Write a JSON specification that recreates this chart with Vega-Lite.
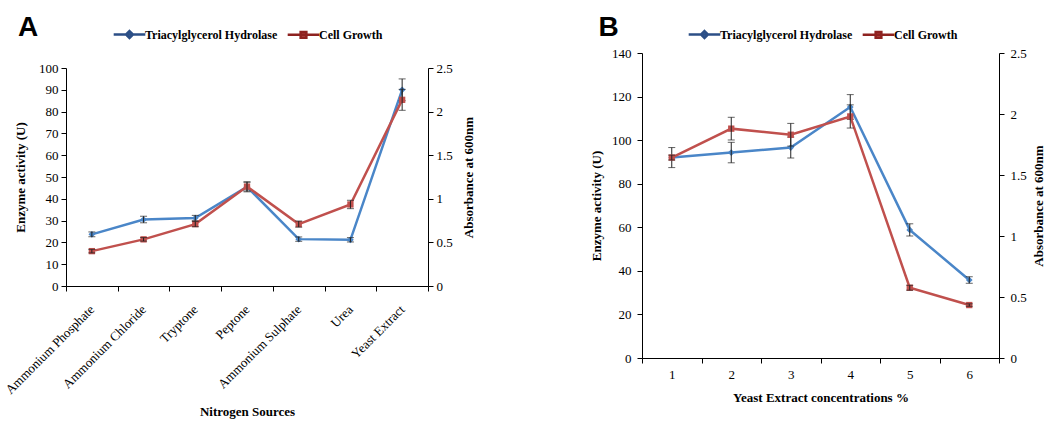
{
  "$schema": "https://vega.github.io/schema/vega-lite/v6.json",
  "background": "white",
  "padding": {"left": 3, "top": 14, "right": 0, "bottom": 0},
  "spacing": 114,
  "resolve": {"scale": {"color": "independent", "shape": "independent", "stroke": "independent"}, "legend": {"color": "independent", "shape": "independent", "stroke": "independent"}},
  "config": {
    "font": "Liberation Serif",
    "view": {"stroke": null},
    "axis": {"labelFont": "Liberation Serif", "labelFontSize": 13, "labelColor": "#000", "titleFont": "Liberation Serif", "titleFontSize": 13, "titleFontWeight": "bold", "titleColor": "#000", "domainColor": "#000", "tickColor": "#000", "grid": false, "tickSize": 5, "labelPadding": 3},
    "legend": {"labelFont": "Liberation Serif", "labelFontSize": 12, "labelFontWeight": "bold", "labelColor": "#000", "symbolSize": 1000, "symbolStrokeWidth": 2.5, "labelOffset": -2, "columnPadding": 4, "padding": 0},
    "title": {"font": "Liberation Sans", "fontSize": 28, "fontWeight": "bold", "color": "#000", "anchor": "start"}
  },
  "hconcat": [
    {
      "width": 362,
      "height": 233,
      "title": {"text": "A", "dx": 15, "offset": -25},
      "data": {"values": [
        {"source": "Ammonium Phosphate", "enz": 23.7, "enzErr": 1.1, "abs": 0.40, "absErr": 0.02},
        {"source": "Ammonium Chloride", "enz": 30.5, "enzErr": 1.5, "abs": 0.535, "absErr": 0.02},
        {"source": "Tryptone", "enz": 31.2, "enzErr": 1.2, "abs": 0.71, "absErr": 0.03},
        {"source": "Peptone", "enz": 45.5, "enzErr": 2.3, "abs": 1.14, "absErr": 0.05},
        {"source": "Ammonium Sulphate", "enz": 21.5, "enzErr": 1.0, "abs": 0.71, "absErr": 0.035},
        {"source": "Urea", "enz": 21.2, "enzErr": 1.0, "abs": 0.935, "absErr": 0.048},
        {"source": "Yeast Extract", "enz": 90.0, "enzErr": 5.0, "abs": 2.135, "absErr": 0.12}
      ]},
      "encoding": {
        "x": {"field": "source", "type": "nominal", "sort": null,
          "scale": {"type": "band", "paddingInner": 0, "paddingOuter": 0},
          "axis": {"title": "Nitrogen Sources", "labelAngle": -45, "labelAlign": "right", "labelBaseline": "middle", "labelFontSize": 13, "tickBand": "extent", "labelPadding": 16, "titlePadding": 9}}
      },
      "layer": [
        {
          "encoding": {
            "y": {"field": "enz", "type": "quantitative", "scale": {"domain": [0, 100], "range": [233, 15]},
              "axis": {"orient": "left", "title": "Enzyme activity (U)", "values": [0,10,20,30,40,50,60,70,80,90,100], "titlePadding": 11}}
          },
          "layer": [
            {"mark": {"type": "line", "color": "#4A86C8", "strokeWidth": 2.5}},
            {"mark": {"type": "point", "shape": "diamond", "filled": true, "color": "#4A86C8", "size": 45, "opacity": 1}},
            {"mark": {"type": "errorbar", "ticks": {"size": 7}, "color": "#222", "thickness": 1}, "encoding": {"yError": {"field": "enzErr"}}},
            {"mark": {"type": "point", "filled": true, "opacity": 0},
              "encoding": {
                "color": {"datum": "Triacylglycerol Hydrolase", "scale": {"domain": ["Triacylglycerol Hydrolase", "Cell Growth"], "range": ["#4A86C8", "#C0504D"]},
                  "legend": {"orient": "none", "legendX": 46, "legendY": -36, "direction": "horizontal", "title": null, "symbolOpacity": 1}},
                "stroke": {"datum": "Triacylglycerol Hydrolase", "scale": {"domain": ["Triacylglycerol Hydrolase", "Cell Growth"], "range": ["#2C4F86", "#8E2220"]}},
                "shape": {"datum": "Triacylglycerol Hydrolase", "scale": {"domain": ["Triacylglycerol Hydrolase", "Cell Growth"], "range": ["M-1,0H1M0,-0.22L0.22,0L0,0.22L-0.22,0Z", "M-1,0H1M-0.18,-0.18H0.18V0.18H-0.18Z"]}}
              }}
          ]
        },
        {
          "encoding": {
            "y": {"field": "abs", "type": "quantitative", "scale": {"domain": [0, 2.5], "range": [233, 15]},
              "axis": {"orient": "right", "title": "Absorbance at 600nm", "values": [0,0.5,1,1.5,2,2.5], "format": "~g", "titleAngle": 270, "titleBaseline": "top", "titlePadding": 10}}
          },
          "layer": [
            {"mark": {"type": "line", "color": "#C0504D", "strokeWidth": 2.5}},
            {"mark": {"type": "point", "shape": "square", "filled": true, "color": "#C0504D", "size": 40, "opacity": 1}},
            {"mark": {"type": "errorbar", "ticks": {"size": 7}, "color": "#222", "thickness": 1}, "encoding": {"yError": {"field": "absErr"}}},
            {"mark": {"type": "point", "filled": true, "opacity": 0},
              "encoding": {
                "color": {"datum": "Cell Growth", "scale": {"domain": ["Triacylglycerol Hydrolase", "Cell Growth"], "range": ["#4A86C8", "#C0504D"]},
                  "legend": {"orient": "none", "legendX": 46, "legendY": -36, "direction": "horizontal", "title": null, "symbolOpacity": 1}},
                "stroke": {"datum": "Cell Growth", "scale": {"domain": ["Triacylglycerol Hydrolase", "Cell Growth"], "range": ["#2C4F86", "#8E2220"]}},
                "shape": {"datum": "Cell Growth", "scale": {"domain": ["Triacylglycerol Hydrolase", "Cell Growth"], "range": ["M-1,0H1M0,-0.22L0.22,0L0,0.22L-0.22,0Z", "M-1,0H1M-0.18,-0.18H0.18V0.18H-0.18Z"]}}
              }}
          ]
        }
      ],
      "resolve": {"scale": {"y": "independent"}}
    },
    {
      "width": 357,
      "height": 305,
      "title": {"text": "B", "dx": 8, "offset": -25},
      "data": {"values": [
        {"conc": "1", "enz": 92.0, "enzErr": 4.6, "abs": 1.643, "absErr": 0.02},
        {"conc": "2", "enz": 94.3, "enzErr": 4.7, "abs": 1.88, "absErr": 0.093},
        {"conc": "3", "enz": 96.6, "enzErr": 4.8, "abs": 1.83, "absErr": 0.093},
        {"conc": "4", "enz": 115.2, "enzErr": 5.7, "abs": 1.98, "absErr": 0.095},
        {"conc": "5", "enz": 58.8, "enzErr": 2.8, "abs": 0.576, "absErr": 0.02},
        {"conc": "6", "enz": 35.8, "enzErr": 1.5, "abs": 0.434, "absErr": 0.01}
      ]},
      "encoding": {
        "x": {"field": "conc", "type": "ordinal", "sort": null,
          "scale": {"type": "band", "paddingInner": 0, "paddingOuter": 0},
          "axis": {"title": "Yeast Extract concentrations %", "labelAngle": 0, "tickBand": "extent", "labelPadding": 5, "titlePadding": 10}}
      },
      "layer": [
        {
          "encoding": {
            "y": {"field": "enz", "type": "quantitative", "scale": {"domain": [0, 140]},
              "axis": {"orient": "left", "title": "Enzyme activity (U)", "values": [0,20,40,60,80,100,120,140], "titlePadding": 8, "labelPadding": 6}}
          },
          "layer": [
            {"mark": {"type": "line", "color": "#4A86C8", "strokeWidth": 2.5}},
            {"mark": {"type": "point", "shape": "diamond", "filled": true, "color": "#4A86C8", "size": 45, "opacity": 1}},
            {"mark": {"type": "errorbar", "ticks": {"size": 7}, "color": "#222", "thickness": 1}, "encoding": {"yError": {"field": "enzErr"}}},
            {"mark": {"type": "point", "filled": true, "opacity": 0},
              "encoding": {
                "color": {"datum": "Triacylglycerol Hydrolase", "scale": {"domain": ["Triacylglycerol Hydrolase", "Cell Growth"], "range": ["#4A86C8", "#C0504D"]},
                  "legend": {"orient": "none", "legendX": 45, "legendY": -36, "direction": "horizontal", "title": null, "symbolOpacity": 1}},
                "stroke": {"datum": "Triacylglycerol Hydrolase", "scale": {"domain": ["Triacylglycerol Hydrolase", "Cell Growth"], "range": ["#2C4F86", "#8E2220"]}},
                "shape": {"datum": "Triacylglycerol Hydrolase", "scale": {"domain": ["Triacylglycerol Hydrolase", "Cell Growth"], "range": ["M-1,0H1M0,-0.22L0.22,0L0,0.22L-0.22,0Z", "M-1,0H1M-0.18,-0.18H0.18V0.18H-0.18Z"]}}
              }}
          ]
        },
        {
          "encoding": {
            "y": {"field": "abs", "type": "quantitative", "scale": {"domain": [0, 2.5]},
              "axis": {"orient": "right", "title": "Absorbance at 600nm", "values": [0,0.5,1,1.5,2,2.5], "format": "~g", "titleAngle": 270, "titleBaseline": "top", "titlePadding": 6, "labelPadding": 6}}
          },
          "layer": [
            {"mark": {"type": "line", "color": "#C0504D", "strokeWidth": 2.5}},
            {"mark": {"type": "point", "shape": "square", "filled": true, "color": "#C0504D", "size": 40, "opacity": 1}},
            {"mark": {"type": "errorbar", "ticks": {"size": 7}, "color": "#222", "thickness": 1}, "encoding": {"yError": {"field": "absErr"}}},
            {"mark": {"type": "point", "filled": true, "opacity": 0},
              "encoding": {
                "color": {"datum": "Cell Growth", "scale": {"domain": ["Triacylglycerol Hydrolase", "Cell Growth"], "range": ["#4A86C8", "#C0504D"]},
                  "legend": {"orient": "none", "legendX": 45, "legendY": -36, "direction": "horizontal", "title": null, "symbolOpacity": 1}},
                "stroke": {"datum": "Cell Growth", "scale": {"domain": ["Triacylglycerol Hydrolase", "Cell Growth"], "range": ["#2C4F86", "#8E2220"]}},
                "shape": {"datum": "Cell Growth", "scale": {"domain": ["Triacylglycerol Hydrolase", "Cell Growth"], "range": ["M-1,0H1M0,-0.22L0.22,0L0,0.22L-0.22,0Z", "M-1,0H1M-0.18,-0.18H0.18V0.18H-0.18Z"]}}
              }}
          ]
        }
      ],
      "resolve": {"scale": {"y": "independent"}}
    }
  ]
}
